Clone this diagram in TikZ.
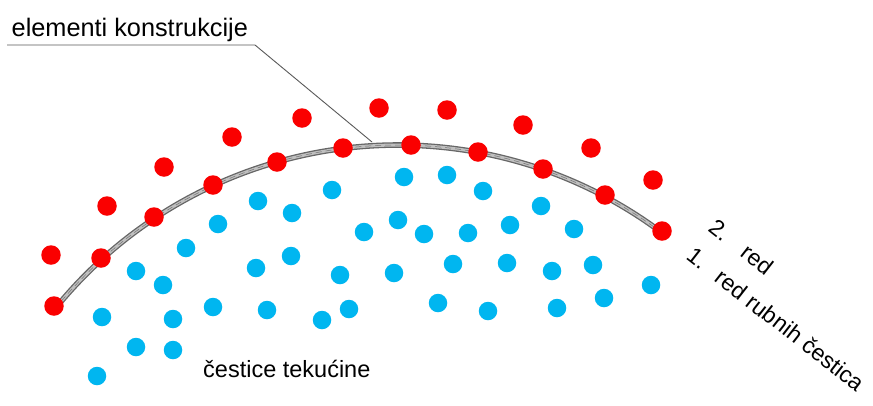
\documentclass[tikz,border=0pt]{standalone}
\usepackage{fontspec}
\setmainfont{Liberation Sans}
\definecolor{dotred}{RGB}{250,0,0}
\definecolor{dotblue}{RGB}{0,182,240}
\begin{document}
\begin{tikzpicture}[x=1pt,y=-1pt,
  rdot/.style={circle,fill=dotred,inner sep=0pt,minimum size=19.5pt},
  bdot/.style={circle,fill=dotblue,inner sep=0pt,minimum size=18.5pt},
  lbl/.style={inner sep=0pt,anchor=base west,text=black},
  leader/.style={draw=black!65,line width=0.9pt}]
\useasboundingbox (0,0) rectangle (873,405);
% wall (construction elements)
\draw[black!60,line width=5.6pt] plot[domain=53.2:141.3,samples=80,smooth] ({398+441*cos(\x)},{586-441*sin(\x)});
\draw[black!25,line width=3.0pt] plot[domain=53.2:141.3,samples=80,smooth] ({398+441*cos(\x)},{586-441*sin(\x)});
\draw[black!55,line width=0.5pt,dash pattern=on 6pt off 4pt] plot[domain=53.2:141.3,samples=80,smooth] ({398+441*cos(\x)},{586-441*sin(\x)});
% leader
\node[lbl,font=\fontsize{25.3}{29}\selectfont] (tel) at (11.5,36.5) {elementi konstrukcije};
\coordinate (la) at (7,45);
\coordinate (lb) at (255,45);
\coordinate (lc) at (372,142);
\draw[leader] (la) -- (lb) -- (lc);
% first row (on curve)
\foreach \p [count=\i] in {(54,306),(101,258),(154,217),(213,185),(277,162),(343,148),(411,145),(478,152),(543,169),(605,195),(662,231)}
  \node[rdot] (ra\i) at \p {};
% second row
\foreach \p [count=\i] in {(51,255),(107,206),(164,167),(232,137),(302,118),(379,108),(447,110),(523,125),(591,148),(653,180)}
  \node[rdot] (rb\i) at \p {};
% fluid particles
\foreach \p [count=\i] in {(404,177),(447,175),(332,190),(483,191),(258,201),(292,213),(541,206),(218,224),(364,232),(398,220),(424,234),(468,233),(510,225),(574,229),(186,248),(291,256),(136,271),(256,268),(163,285),(340,275),(394,273),(453,264),(507,263),(552,271),(593,265),(651,285),(102,317),(173,319),(213,307),(267,310),(322,320),(349,309),(438,303),(488,311),(557,308),(604,298),(136,347),(173,350),(97,376)}
  \node[bdot] (b\i) at \p {};
\node[lbl,font=\fontsize{23.5}{27}\selectfont] (tf) at (203,377) {čestice tekućine};
\node[lbl,rotate=-38,font=\fontsize{23}{27}\selectfont] (t2) at (707,230.5) {2.\hspace{22pt}red};
\node[lbl,rotate=-38,font=\fontsize{23}{27}\selectfont] (t1) at (685,258.5) {1.\hspace{17pt}red rubnih čestica};
\end{tikzpicture}
\end{document}
